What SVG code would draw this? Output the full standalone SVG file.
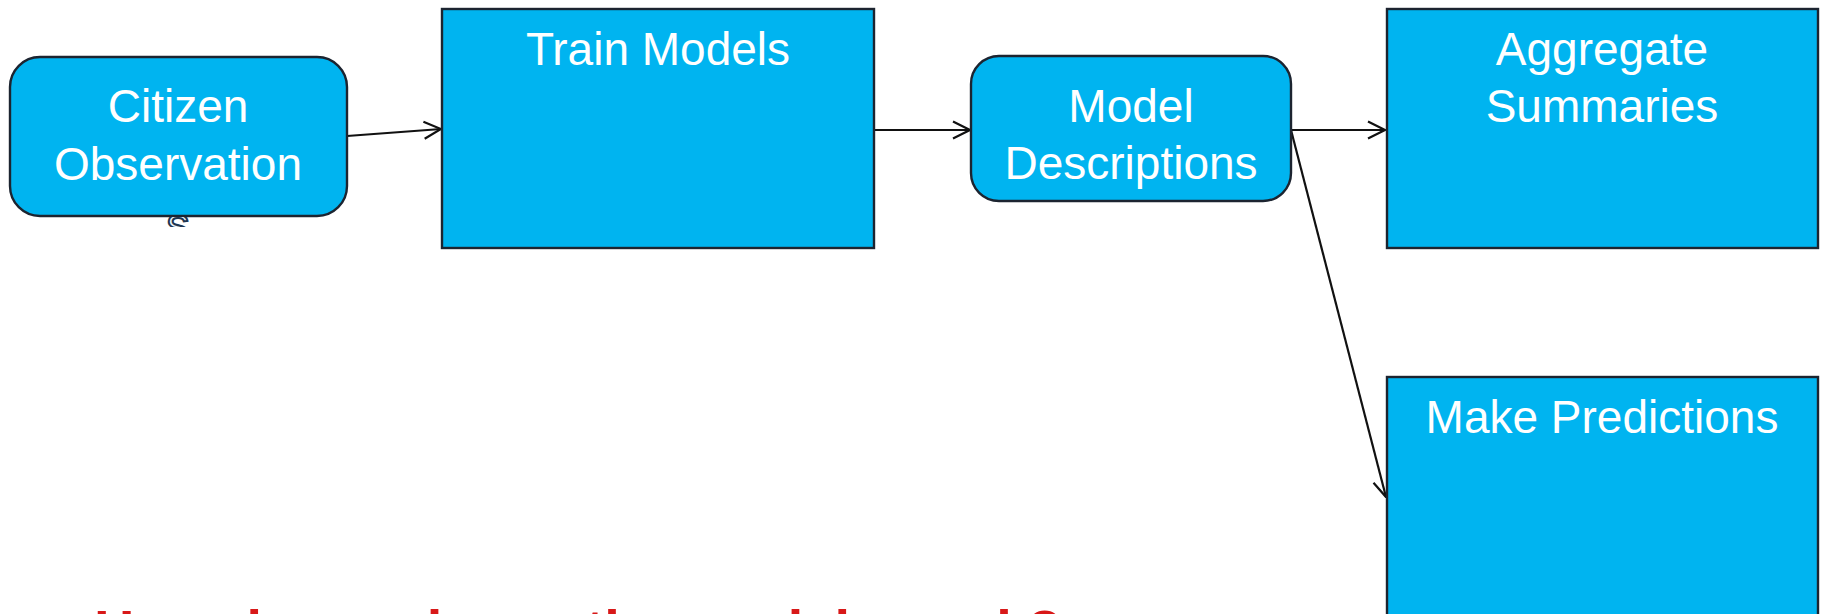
<svg xmlns="http://www.w3.org/2000/svg" width="1823" height="614" viewBox="0 0 1823 614">
  <style>
    .box { fill: #00b4f0; stroke: #1c2430; stroke-width: 2.4; }
    .lbl { font-family: "Liberation Sans", Arial, sans-serif; font-size: 46px; fill: #ffffff; text-anchor: middle; }
    .conn { stroke: #111111; stroke-width: 2.2; fill: none; }
    .note { font-family: "Liberation Sans", Arial, sans-serif; font-size: 56px; font-weight: bold; fill: #d81818; }
  </style>
  <defs>
    <marker id="arrow" viewBox="0 0 20 20" refX="19" refY="10" markerWidth="20" markerHeight="20" markerUnits="userSpaceOnUse" orient="auto">
      <path d="M2,1.5 L19,10 L2,18.5" fill="none" stroke="#111111" stroke-width="2.2"/>
    </marker>
    <clipPath id="overflow-clip">
      <rect x="0" y="217" width="400" height="10"/>
    </clipPath>
  </defs>

  <rect width="1823" height="614" fill="#ffffff"/>

  <!-- connectors -->
  <g id="connectors">
    <line class="conn" x1="347" y1="136" x2="441" y2="129" marker-end="url(#arrow)"/>
    <line class="conn" x1="874" y1="130" x2="970" y2="130" marker-end="url(#arrow)"/>
    <line class="conn" x1="1291" y1="130" x2="1385" y2="130" marker-end="url(#arrow)"/>
    <line class="conn" x1="1291" y1="130" x2="1386" y2="497" marker-end="url(#arrow)"/>
  </g>

  <!-- process steps -->
  <g id="citizen-observations">
    <rect class="box" x="10" y="57" width="337" height="159" rx="30" ry="30"/>
    <text class="lbl" x="178" y="122">Citizen</text>
    <text class="lbl" x="178" y="180">Observation</text>
    <!-- wrapped last letter spills below the box -->
    <text class="lbl" x="178" y="240" clip-path="url(#overflow-clip)" style="fill:#e6f2f8;stroke:#1d3550;stroke-width:2">s</text>
  </g>

  <g id="train-models">
    <rect class="box" x="442" y="9" width="432" height="239"/>
    <text class="lbl" x="658" y="65">Train Models</text>
  </g>

  <g id="model-descriptions">
    <rect class="box" x="971" y="56" width="320" height="145" rx="28" ry="28"/>
    <text class="lbl" x="1131" y="122">Model</text>
    <text class="lbl" x="1131" y="179">Descriptions</text>
  </g>

  <g id="aggregate-summaries">
    <rect class="box" x="1387" y="9" width="431" height="239"/>
    <text class="lbl" x="1602" y="65">Aggregate</text>
    <text class="lbl" x="1602" y="122">Summaries</text>
  </g>

  <g id="make-predictions">
    <rect class="box" x="1387" y="377" width="431" height="260"/>
    <text class="lbl" x="1602" y="433">Make Predictions</text>
  </g>

  <!-- closing question, running off the bottom edge -->
  <text class="note" x="94" y="649">How do you know the models work?</text>
</svg>
